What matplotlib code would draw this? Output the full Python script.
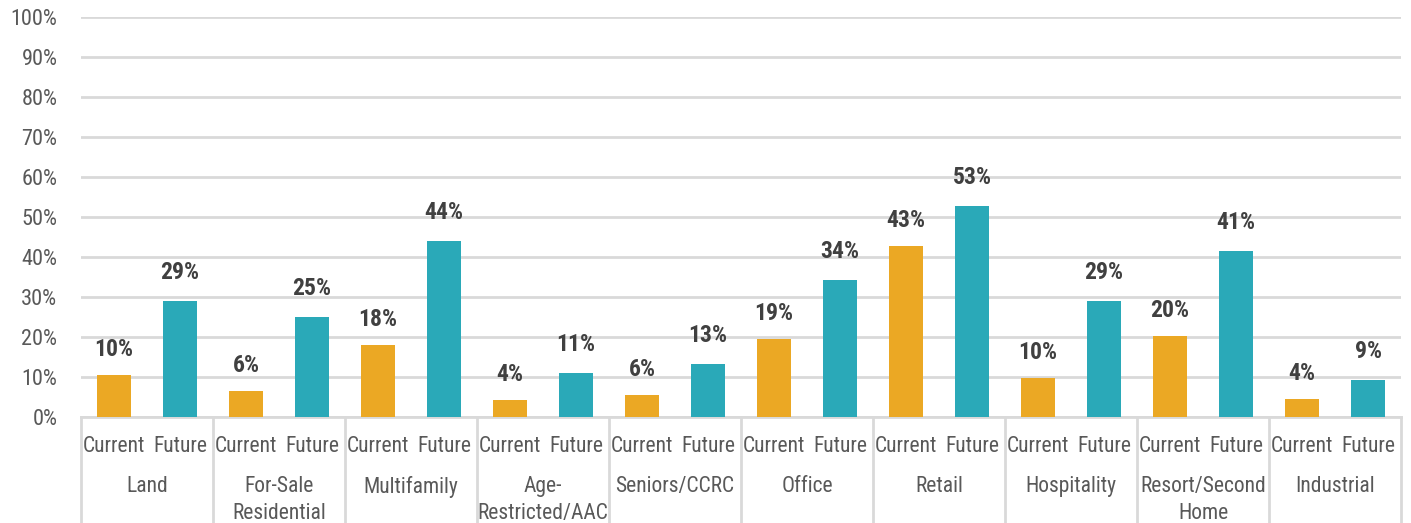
import matplotlib
matplotlib.use("Agg")
import matplotlib.pyplot as plt
import numpy as np

# ---- data ----
groups = ["Land", "For-Sale\nResidential", "Multifamily", "Age-\nRestricted/AAC",
          "Seniors/CCRC", "Office", "Retail", "Hospitality", "Resort/Second\nHome",
          "Industrial"]
series_names = ["Current", "Future"]
current = [10.5, 6.5, 18.0, 4.3, 5.5, 19.5, 42.7, 9.7, 20.2, 4.5]
future = [29.0, 25.0, 44.0, 11.0, 13.2, 34.2, 52.7, 29.0, 41.5, 9.2]
current_labels = ["10%", "6%", "18%", "4%", "6%", "19%", "43%", "10%", "20%", "4%"]
future_labels = ["29%", "25%", "44%", "11%", "13%", "34%", "53%", "29%", "41%", "9%"]
y_ticks = [0, 10, 20, 30, 40, 50, 60, 70, 80, 90, 100]

# ---- style ----
plt.rcParams['font.family'] = ['Roboto Condensed', 'Liberation Sans Narrow',
                               'Barlow Condensed', 'DejaVu Sans']
ORANGE = "#EBA824"
TEAL = "#2AA9B8"
GRID = "#D9D9D9"
TICK = "#595959"
LABEL = "#404040"

W, H = 1411, 523
fig = plt.figure(figsize=(W / 100, H / 100), dpi=100)
left, right, bottom, top = 81, 1401, 417, 17
ax = fig.add_axes([left / W, 1 - bottom / H, (right - left) / W, (bottom - top) / H])

n = len(groups)
xc = np.arange(n) * 2
xf = xc + 1
bw = 0.52
ax.bar(xc, current, width=bw, color=ORANGE, zorder=3)
ax.bar(xf, future, width=bw, color=TEAL, zorder=3)

for x, v, t in zip(xc, current, current_labels):
    ax.annotate(t, (x, v), xytext=(0, 10), textcoords="offset points",
                ha="center", va="bottom", fontsize=17, fontweight="bold", color=LABEL)
for x, v, t in zip(xf, future, future_labels):
    ax.annotate(t, (x, v), xytext=(0, 12.5), textcoords="offset points",
                ha="center", va="bottom", fontsize=17, fontweight="bold", color=LABEL)

ax.set_xlim(-0.5, 2 * n - 0.5)
ax.set_ylim(0, 100)
ax.set_yticks(y_ticks)
ax.set_yticklabels([f"{t}%" for t in y_ticks])
ax.tick_params(axis="y", length=0, labelsize=16, labelcolor=TICK, pad=17)
ax.yaxis.grid(True, color=GRID, linewidth=2)
ax.set_axisbelow(True)
for s in ["top", "right", "left"]:
    ax.spines[s].set_visible(False)
ax.spines["bottom"].set_color(GRID)
ax.spines["bottom"].set_linewidth(2)

# sub-category tick labels
ax.set_xticks(np.concatenate([xc, xf]))
ax.set_xticklabels(series_names[:1] * n + series_names[1:] * n)
ax.tick_params(axis="x", length=0, labelsize=15.5, labelcolor=TICK, pad=14)

# group labels and separators
trans = ax.get_xaxis_transform()
ax_h = bottom - top
for i, g in enumerate(groups):
    ax.text(2 * i + 0.5, -(476 - bottom) / ax_h, g, transform=trans, ha="center",
            va="top", fontsize=15.5, color=TICK, linespacing=1.35)
for i in range(n + 1):
    xb = 2 * i - 0.5
    ax.plot([xb, xb], [0, -(H - bottom + 5) / ax_h], transform=trans, color=GRID,
            linewidth=2, clip_on=False)

fig.savefig("out.png", dpi=100)
